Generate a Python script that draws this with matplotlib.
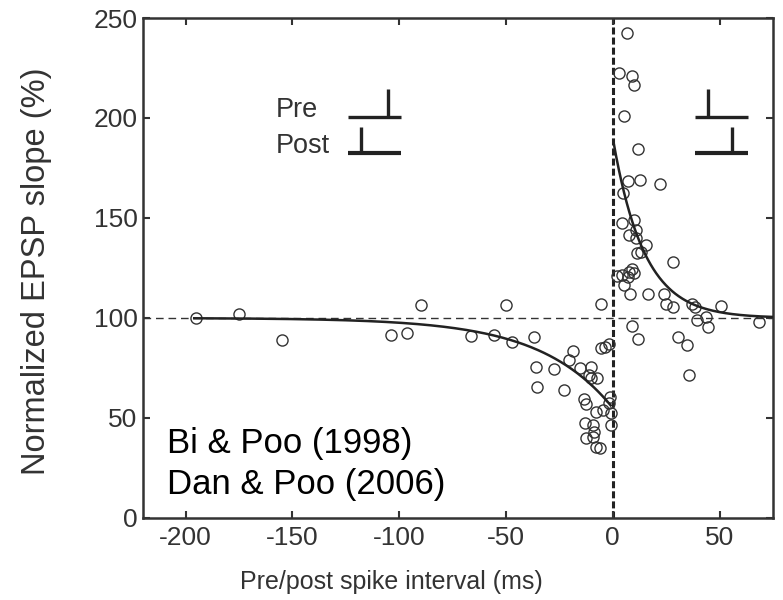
import numpy as np
import matplotlib
matplotlib.use('Agg')
import matplotlib.pyplot as plt

plt.rcParams['font.family'] = ['Liberation Sans', 'DejaVu Sans']
plt.rcParams['axes.unicode_minus'] = False

# spike timing data (ms, % of baseline)
pre_first_t = [-195, -175, -155, -104, -96.5, -90, -66.5, -55.5, -50, -47.3,
               -37, -36, -35.3, -27.5, -22.8, -18.6, -20.5, -15.3, -10, -11.1,
               -7.2, -10, -5.6, -5.6, -3.75, -2, -13.4, -12.7, -8, -4.4,
               -0.9, -1.2, -2, -0.9, -13.1, -9.5, -12.7, -9.2, -8, -6.1, -9]
pre_first_w = [100, 102, 89, 91.5, 92.5, 106.5, 91, 91.5, 106.5, 88,
               90.7, 75.7, 65.3, 74.3, 64, 83.7, 79, 74.8, 75.3, 71.5,
               70.2, 69.8, 107, 84.8, 85.7, 86.8, 59.3, 57, 53, 54,
               52.3, 60.7, 57.3, 46.5, 47.3, 46.5, 39.8, 40.7, 35.7, 34.8, 43]

post_first_t = [6.6, 3, 9.2, 9.7, 5.3, 12, 6.9, 12.7, 22, 5,
                4.5, 9.7, 7.7, 10.8, 10.8, 15.5, 11.25, 13.1, 28, 1.9,
                4.5, 7.7, 9.2, 10, 6.9, 5.3, 8.1, 16.3, 23.8, 24.8,
                28, 37, 38.4, 50.6, 39.4, 43.6, 44.7, 68.6, 8.8, 11.6,
                30.6, 34.7, 35.8]
post_first_w = [242.3, 222.7, 221, 216.5, 201, 184.3, 168.5, 169, 167, 162.3,
                147.7, 149, 141.5, 144, 139.8, 136.5, 132.7, 133.2, 128.2, 121,
                121.5, 123.2, 124.3, 122.3, 120.7, 116.5, 112, 111.8, 112, 107,
                105.3, 107, 105.3, 106, 99, 100.7, 95.7, 98.2, 96, 89.3,
                90.3, 86.5, 71.5]

# exponential fits
A_plus, tau_plus = 90, 14.6
A_minus, tau_minus = 45, 34

fig = plt.figure(figsize=(7.83, 6), dpi=100)
ax = fig.add_axes([0.1826, 0.1367, 0.8046, 0.8333])

ax.axhline(100, color='#333333', lw=1, ls=(0, (5.5, 3.5)), zorder=1)
ax.axvline(0, color='#222222', lw=2.2, ls=(0, (2.3, 1.0)), zorder=1)

t_neg = np.linspace(-196, -1, 300)
t_pos = np.linspace(0.3, 75, 300)
ax.plot(t_neg, 100 - A_minus * np.exp(t_neg / tau_minus), color='#222222', lw=1.8, zorder=3)
ax.plot(t_pos, 100 + A_plus * np.exp(-t_pos / tau_plus), color='#222222', lw=1.8, zorder=3)

ax.plot(pre_first_t, pre_first_w, 'o', mfc='none', mec='#333333', ms=8, mew=1.0, zorder=2)
ax.plot(post_first_t, post_first_w, 'o', mfc='none', mec='#333333', ms=8, mew=1.0, zorder=2)

ax.set_xlim(-220, 75)
ax.set_ylim(0, 250)
ax.set_xticks([-200, -150, -100, -50, 0, 50])
ax.set_yticks([0, 50, 100, 150, 200, 250])
ax.tick_params(direction='in', top=True, right=True, length=5, width=1.5,
               color='#333333', labelsize=19, labelcolor='#333333')
ax.tick_params(axis='x', pad=6)
ax.tick_params(axis='y', pad=4)
for s in ax.spines.values():
    s.set_linewidth(1.8)
    s.set_color('#333333')

ax.set_xlabel('Pre/post spike interval (ms)', fontsize=18, color='#333333')
ax.xaxis.set_label_coords(0.394, -0.104)
ax.set_ylabel('Normalized EPSP slope (%)', fontsize=23.5, color='#333333')
ax.yaxis.set_label_coords(-0.144, 0.494)

# pairing schematics
ax.text(-158, 204, 'Pre', fontsize=19.5, color='#333333', va='center', ha='left')
ax.text(-158, 186, 'Post', fontsize=19.5, color='#333333', va='center', ha='left')
k = dict(color='#222222', solid_capstyle='butt')
ax.plot([-124, -99], [200.6, 200.6], lw=2.4, **k)
ax.plot([-105.2, -105.2], [200.6, 214.3], lw=2.4, **k)
ax.plot([-124, -99], [182.6, 182.6], lw=3, **k)
ax.plot([-118.1, -118.1], [182.6, 195.6], lw=2.4, **k)
ax.plot([38.4, 63.1], [200.3, 200.3], lw=2.4, **k)
ax.plot([44.4, 44.4], [200.3, 214.3], lw=2.4, **k)
ax.plot([38.4, 63.1], [182.3, 182.3], lw=3, **k)
ax.plot([55.8, 55.8], [182.3, 195.6], lw=2.4, **k)

ax.text(-208.6, 32.5, 'Bi & Poo (1998)', fontsize=25, color='black', va='baseline', ha='left')
ax.text(-208.6, 12, 'Dan & Poo (2006)', fontsize=25, color='black', va='baseline', ha='left')

fig.savefig('out.png', dpi=100)
